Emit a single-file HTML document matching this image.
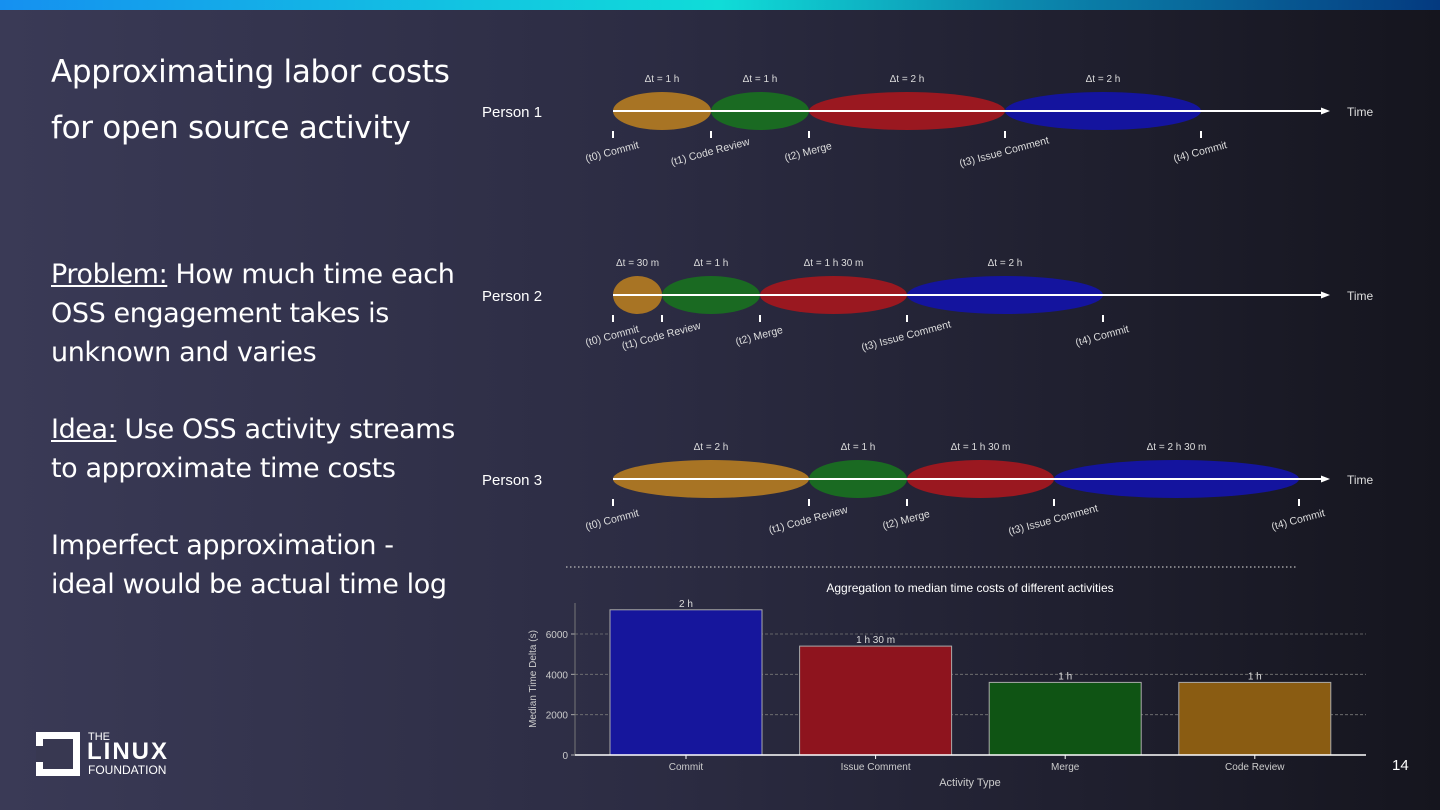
<!DOCTYPE html>
<html><head><meta charset="utf-8"><style>
html,body{margin:0;padding:0}
body{width:1440px;height:810px;overflow:hidden;position:relative;font-family:"Liberation Sans","DejaVu Sans",sans-serif;background:linear-gradient(90deg,#3a3a56 0%,#2c2c43 45%,#15151e 100%);color:#fff}
.topbar{position:absolute;left:0;top:0;width:1440px;height:10px;background:linear-gradient(90deg,#1590f0 0%,#12c8e0 35%,#10dcd8 50%,#0c8cb0 70%,#043a80 100%)}
.title{position:absolute;left:51px;top:44px;font-size:31px;line-height:56px;font-family:"DejaVu Sans","Liberation Sans",sans-serif;font-weight:400;letter-spacing:-0.3px}
.body{position:absolute;left:51px;top:255px;font-size:27px;line-height:39px;font-family:"DejaVu Sans","Liberation Sans",sans-serif;letter-spacing:-0.4px}
.body u{text-decoration:underline}
.pnum{position:absolute;left:1392px;top:757px;font-size:15px}
svg{position:absolute;left:0;top:0}
</style></head><body>
<div class="topbar"></div>
<div class="title">Approximating labor costs<br>for open source activity</div>
<div class="body">
<div><u>Problem:</u> How much time each<br>OSS engagement takes is<br>unknown and varies</div>
<div style="height:38px"></div>
<div><u>Idea:</u> Use OSS activity streams<br>to approximate time costs</div>
<div style="height:38px"></div>
<div>Imperfect approximation -<br>ideal would be actual time log</div>
</div>
<div style="position:absolute;left:36px;top:732px;width:150px;height:46px">
<div style="position:absolute;left:0;top:0;width:44px;height:44px;background:#fff"></div>
<div style="position:absolute;left:7px;top:7px;width:30px;height:30px;background:#383851"></div>
<div style="position:absolute;left:0;top:14px;width:7px;height:16px;background:#383851"></div>
<div style="position:absolute;left:52px;top:-1px;font-size:11px;line-height:12px">THE</div>
<div style="position:absolute;left:51px;top:9px;font-size:24px;font-weight:bold;line-height:22px;letter-spacing:2px">LINUX</div>
<div style="position:absolute;left:52px;top:32px;font-size:12px;line-height:12px">FOUNDATION</div>
</div>
<div class="pnum">14</div>
<svg id="chart" width="1440" height="810"></svg>
<script>
const personLabels=["Person 1","Person 2","Person 3"];
const actNames=[["Commit","Code Review","Merge","Issue Comment"],["Commit","Code Review","Merge","Issue Comment"],["Commit","Code Review","Merge","Issue Comment"]];
const durations=[[1,1,2,2],[0.5,1,1.5,2],[2,1,1.5,2.5]];
const durLabels=[["Δt = 1 h","Δt = 1 h","Δt = 2 h","Δt = 2 h"],["Δt = 30 m","Δt = 1 h","Δt = 1 h 30 m","Δt = 2 h"],["Δt = 2 h","Δt = 1 h","Δt = 1 h 30 m","Δt = 2 h 30 m"]];
const categories=["Commit","Issue Comment","Merge","Code Review"];
const medians=[7200,5400,3600,3600];
const barLabels=["2 h","1 h 30 m","1 h","1 h"];
const yTicks=[0,2000,4000,6000];

const NS="http://www.w3.org/2000/svg";
const svg=document.getElementById('chart');
function mk(tag,attrs,parent,text){const e=document.createElementNS(NS,tag);for(const k in attrs)e.setAttribute(k,attrs[k]);if(text!==undefined)e.textContent=text;(parent||svg).appendChild(e);return e;}
const colorOf={"Commit":"#a87424","Code Review":"#1a6a22","Merge":"#9a1820","Issue Comment":"#14149e"};
const barColor={"Commit":"#16169c","Issue Comment":"#8e141e","Merge":"#0f5414","Code Review":"#8a5c12"};
const rowY=[111,295,479];
const tx0=613, pxPerH=98;
const tX=h=>tx0+h*pxPerH;
const fontT='"Liberation Sans","DejaVu Sans",sans-serif';
rowY.forEach((y,r)=>{
  const g=mk('g',{});
  
  
  const pl=mk('text',{x:482,y:y+6,fill:'#fff','font-size':15,'font-family':fontT},g,personLabels[r]);
  
  
  let t=0;const ticks=[0];
  durations[r].forEach((d,i)=>{
    const x1=tX(t),x2=tX(t+d);
    const el=mk('ellipse',{cx:(x1+x2)/2,cy:y,rx:(x2-x1)/2,ry:19,fill:colorOf[actNames[r][i]]},g);
    
    
    const dl=mk('text',{x:(x1+x2)/2,y:y-29,fill:'#ddd','font-size':10,'text-anchor':'middle','font-family':fontT},g,durLabels[r][i]);
    
    
    t+=d;ticks.push(t);
  });
  mk('line',{x1:tx0,y1:y,x2:1322,y2:y,stroke:'#fff','stroke-width':2},g);
  mk('polygon',{points:`1330,${y} 1321,${y-3.5} 1321,${y+3.5}`,fill:'#fff'},g);
  mk('text',{x:1347,y:y+5,fill:'#ddd','font-size':12,'font-family':fontT},g,'Time');
  const evNames=[...actNames[r],"Commit"];
  ticks.forEach((h,i)=>{
    const x=tX(h);
    mk('line',{x1:x,y1:y+20,x2:x,y2:y+27,stroke:'#fff','stroke-width':2},g);
    const lab=mk('text',{x:x,y:y+44,fill:'#ddd','font-size':10.5,'text-anchor':'middle','font-family':fontT,transform:`rotate(-15 ${x} ${y+44})`},g,`(t${i}) ${evNames[i]}`);
    
    
  });
});
mk('line',{x1:566,y1:567,x2:1298,y2:567,stroke:'#bbb','stroke-width':1.2,'stroke-dasharray':'1.5 2.5'});
const bx0=575,bx1=1366,by0=755;
const yS=v=>by0-v*(121/6000);
const slot=189.6, xC=i=>686+i*slot, bw=152;
const bc=mk('g',{});


mk('text',{x:970,y:592,fill:'#fff','font-size':12,'text-anchor':'middle','font-family':fontT},bc,'Aggregation to median time costs of different activities');
yTicks.forEach(v=>{
  if(v>0)mk('line',{x1:bx0,y1:yS(v),x2:bx1,y2:yS(v),stroke:'#777','stroke-width':0.8,'stroke-dasharray':'3 2'},bc);
  mk('line',{x1:bx0-4,y1:yS(v),x2:bx0,y2:yS(v),stroke:'#aaa'},bc);
  mk('text',{x:bx0-7,y:yS(v)+4,fill:'#ccc','font-size':10,'text-anchor':'end','font-family':fontT},bc,String(v));
});
mk('line',{x1:bx0,y1:603,x2:bx0,y2:by0,stroke:'#777'},bc);
categories.forEach((c,i)=>{
  const r=mk('rect',{x:xC(i)-bw/2,y:yS(medians[i]),width:bw,height:by0-yS(medians[i]),fill:barColor[c],stroke:'#aaa','stroke-width':1},bc);
  
  
  mk('text',{x:xC(i),y:yS(medians[i])-3,fill:'#ddd','font-size':10,'text-anchor':'middle','font-family':fontT},bc,barLabels[i]);
  mk('line',{x1:xC(i),y1:by0,x2:xC(i),y2:by0+4,stroke:'#fff'},bc);
  mk('text',{x:xC(i),y:by0+15,fill:'#ccc','font-size':10,'text-anchor':'middle','font-family':fontT},bc,c);
});
mk('line',{x1:bx0,y1:by0,x2:bx1,y2:by0,stroke:'#fff','stroke-width':1.5},bc);
mk('text',{x:970,y:786,fill:'#ccc','font-size':11,'text-anchor':'middle','font-family':fontT},bc,'Activity Type');
mk('text',{x:536,y:679,fill:'#ccc','font-size':10,'text-anchor':'middle','font-family':fontT,transform:'rotate(-90 536 679)'},bc,'Median Time Delta (s)');
</script>
</body></html>
